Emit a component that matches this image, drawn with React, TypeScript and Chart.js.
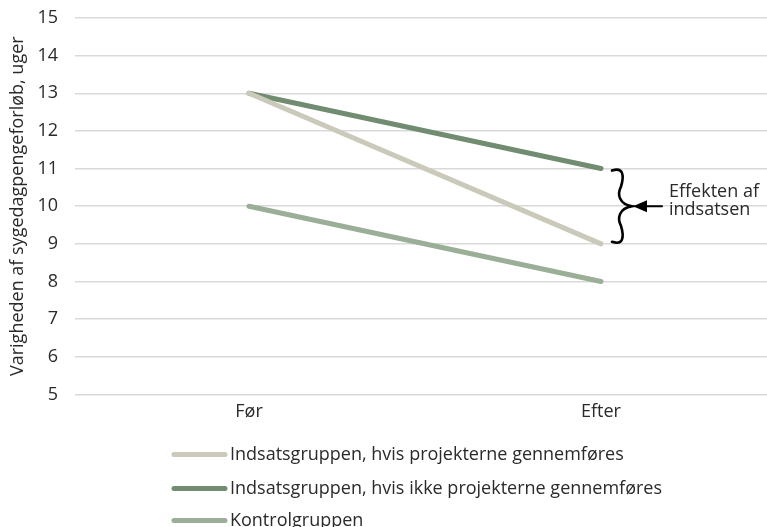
import React, { useEffect, useRef } from "react";
import { Chart, registerables } from "chart.js";

Chart.register(...registerables);

const categories = ["Før", "Efter"];
const seriesNames = [
  "Indsatsgruppen, hvis projekterne gennemføres",
  "Indsatsgruppen, hvis ikke projekterne gennemføres",
  "Kontrolgruppen",
];
const withProjects = [13, 9];
const withoutProjects = [13, 11];
const control = [10, 8];
const colors = ["#cbc9ba", "#718c70", "#9bae97"];
const yTitle = "Varigheden af sygedagpengeforløb, uger";
const annotationLines = ["Effekten af", "indsatsen"];

const FONT = "'Open Sans', 'Noto Sans', sans-serif";
const TEXT = "#2a2a2a";

const legendPlugin = {
  id: "customLegend",
  afterDraw(chart: any) {
    const ctx = chart.ctx;
    const area = chart.chartArea;
    ctx.save();
    ctx.font = `18px ${FONT}`;
    const lineLen = 55;
    const gap = 3;
    const maxW = Math.max(...seriesNames.map((s) => ctx.measureText(s).width));
    const total = lineLen + gap + maxW;
    const x0 = (area.left + area.right) / 2 - total / 2 - 4;
    const rows = [area.bottom + 60, area.bottom + 94, area.bottom + 126];
    seriesNames.forEach((name, i) => {
      const y = rows[i];
      ctx.strokeStyle = colors[i];
      ctx.lineWidth = 5;
      ctx.lineCap = "round";
      ctx.beginPath();
      ctx.moveTo(x0 + 2, y);
      ctx.lineTo(x0 + lineLen - 2, y);
      ctx.stroke();
      ctx.fillStyle = TEXT;
      ctx.textAlign = "left";
      ctx.textBaseline = "middle";
      ctx.fillText(name, x0 + lineLen + gap, y);
    });
    ctx.restore();
  },
};

const bracePlugin = {
  id: "brace",
  afterDatasetsDraw(chart: any) {
    const ctx = chart.ctx;
    const xs = chart.scales.x;
    const ys = chart.scales.y;
    const xe = xs.getPixelForValue(1);
    const yTop = ys.getPixelForValue(withoutProjects[1]);
    const yBot = ys.getPixelForValue(withProjects[1]);
    const yMid = (yTop + yBot) / 2;
    const l = xe + 11;
    const s = xe + 21;
    const t = xe + 31;
    ctx.save();
    ctx.strokeStyle = "#000";
    ctx.fillStyle = "#000";
    ctx.lineWidth = 2.6;
    ctx.lineCap = "round";
    ctx.beginPath();
    ctx.moveTo(l, yTop + 2);
    ctx.bezierCurveTo(s + 2, yTop - 2, s + 2, yTop + 8, s - 1, yTop + 18);
    ctx.bezierCurveTo(s - 5, yMid - 12, s - 3, yMid - 2, t, yMid);
    ctx.bezierCurveTo(s - 3, yMid + 2, s - 5, yMid + 12, s - 1, yBot - 18);
    ctx.bezierCurveTo(s + 2, yBot - 8, s + 2, yBot + 2, l, yBot - 2);
    ctx.stroke();
    // arrow
    const tip = t + 1;
    ctx.lineWidth = 2;
    ctx.beginPath();
    ctx.moveTo(tip + 12, yMid);
    ctx.lineTo(tip + 29, yMid);
    ctx.stroke();
    ctx.beginPath();
    ctx.moveTo(tip, yMid);
    ctx.lineTo(tip + 14, yMid - 6);
    ctx.lineTo(tip + 14, yMid + 6);
    ctx.closePath();
    ctx.fill();
    ctx.font = `18px ${FONT}`;
    ctx.fillStyle = TEXT;
    ctx.textAlign = "left";
    ctx.textBaseline = "middle";
    ctx.fillText(annotationLines[0], tip + 36, yMid - 14);
    ctx.fillText(annotationLines[1], tip + 36, yMid + 4);
    ctx.restore();
  },
};

export default function App() {
  const ref = useRef<HTMLCanvasElement>(null);
  useEffect(() => {
    if (!ref.current) return;
    const mk = (vals: number[]) => vals.map((v, i) => ({ x: i, y: v }));
    const chart = new Chart(ref.current, {
      type: "line",
      data: {
        datasets: [
          { label: seriesNames[2], data: mk(control), borderColor: colors[2] },
          { label: seriesNames[0], data: mk(withProjects), borderColor: colors[0] },
          { label: seriesNames[1], data: mk(withoutProjects), borderColor: colors[1] },
        ].map((d) => ({
          ...d,
          borderWidth: 5,
          borderCapStyle: "round" as const,
          pointRadius: 0,
          fill: false,
          tension: 0,
        })),
      },
      options: {
        animation: false,
        responsive: false,
        layout: { padding: { top: 18, right: 0, left: 0, bottom: 97 } },
        plugins: { legend: { display: false }, tooltip: { enabled: false } },
        scales: {
          x: {
            type: "linear",
            min: -0.4943,
            max: 1.4716,
            afterBuildTicks: (s: any) => {
              s.ticks = categories.map((_, i) => ({ value: i }));
            },
            afterFit: (s: any) => {
              s.paddingLeft = 0;
              s.paddingRight = 0;
            },
            ticks: {
              callback: (v: any) => categories[v] ?? "",
              font: { size: 18, family: FONT },
              color: TEXT,
              padding: 7,
              maxRotation: 0,
            },
            grid: { display: false, drawTicks: false },
            border: { display: false },
          },
          y: {
            min: 5,
            max: 15,
            afterFit: (s: any) => {
              s.width = 75;
              s.paddingTop = 0;
              s.paddingBottom = 0;
            },
            ticks: {
              stepSize: 1,
              font: { size: 18, family: FONT },
              color: TEXT,
              padding: 17,
            },
            grid: { color: "#d9d9d9", lineWidth: 1.5, drawTicks: false },
            border: { display: false },
            title: {
              display: true,
              text: yTitle,
              font: { size: 18, family: FONT },
              color: TEXT,
              padding: { top: 7, bottom: 0 },
            },
          },
        },
      },
      plugins: [legendPlugin, bracePlugin],
    });
    return () => chart.destroy();
  }, []);
  return (
    <div style={{ position: "absolute", left: 0, top: 0, width: 767, height: 527 }}>
      <canvas ref={ref} width={767} height={527} style={{ display: "block" }} />
    </div>
  );
}
